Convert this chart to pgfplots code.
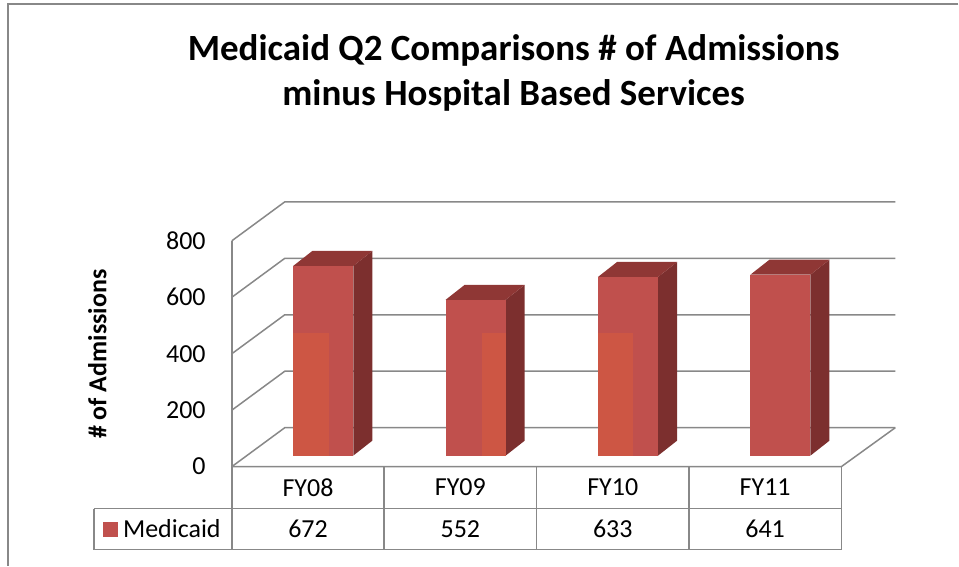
\documentclass[border=0pt]{standalone}
\usepackage{pgfplots}
\pgfplotsset{compat=1.18}
\usepackage{pgfplotstable}
\usepackage{fontspec}
\setmainfont{Carlito}
\definecolor{barfront}{RGB}{192,80,77}
\definecolor{barside}{RGB}{124,47,46}
\definecolor{bartop}{RGB}{143,55,53}
\definecolor{barlight}{RGB}{205,86,68}
\definecolor{gridgray}{RGB}{136,136,136}

% category centre, value, y of the table row
\pgfplotstableread{
x val ty
0.5 672 -221
1.5 552 -221
2.5 633 -221
3.5 641 -221
}\datatable

\begin{document}
\begin{tikzpicture}
\begin{axis}[
  width=664pt, height=265pt, scale only axis,
  xmin=0, xmax=4.354, ymin=0, ymax=938,
  clip=false,
  axis line style={draw=none},
  tick style={draw=none},
  major tick length=0pt,
  ytick={0,200,400,600,800},
  xtick={0.5,1.5,2.5,3.5},
  xticklabels={FY08,FY09,FY10,FY11},
  /pgf/number format/assume math mode=true,
  ticklabel style={font=\fontsize{26}{30}\selectfont},
  yticklabel style={anchor=east, xshift=-26pt, inner sep=0pt},
  xticklabel style={anchor=center, yshift=-21pt, inner sep=0pt},
  title={Medicaid Q2 Comparisons \# of Admissions\\minus Hospital Based Services},
  title style={at={(axis description cs:0.4247,1.611)}, anchor=north, inner sep=0pt,
               align=center, font=\bfseries\fontsize{37}{45}\selectfont},
  ylabel={\# of Admissions},
  ylabel style={at={(axis description cs:-0.2026,0.4245)}, anchor=center, inner sep=0pt,
                font=\bfseries\fontsize{26}{30}\selectfont},
]
% invisible frame fixing the picture size
\path (axis cs:-1.5213,1653.1) rectangle (axis cs:4.7672,-350.44);
% outer chart border (top and left)
\draw[gridgray, line width=1.5pt] (axis cs:4.7672,1639) -- (axis cs:-1.469,1639) -- (axis cs:-1.469,-350.44);

% side wall + back wall gridlines
\addplot[gridgray, line width=1.5pt, mark=none] coordinates {(0,0) (0.3475,138) (4.354,138)};
\addplot[gridgray, line width=1.5pt, mark=none] coordinates {(0,200) (0.3475,338) (4.354,338)};
\addplot[gridgray, line width=1.5pt, mark=none] coordinates {(0,400) (0.3475,538) (4.354,538)};
\addplot[gridgray, line width=1.5pt, mark=none] coordinates {(0,600) (0.3475,738) (4.354,738)};
\addplot[gridgray, line width=1.5pt, mark=none] coordinates {(0,800) (0.3475,938) (4.354,938)};
% floor front and right edge
\addplot[gridgray, line width=1.5pt, mark=none] coordinates {(0,0) (4,0) (4.354,138)};
% front vertical axis line (continues through table)
\draw[gridgray, line width=1.5pt] (axis cs:0,800) -- (axis cs:0,-294);
% data table grid
\draw[gridgray, line width=1.5pt] (axis cs:-0.905,-149) -- (axis cs:4,-149);
\draw[gridgray, line width=1.5pt] (axis cs:-0.905,-294) -- (axis cs:4,-294);
\draw[gridgray, line width=1.5pt] (axis cs:-0.905,-149) -- (axis cs:-0.905,-294);
\draw[gridgray, line width=1.5pt] (axis cs:1,0) -- (axis cs:1,-294);
\draw[gridgray, line width=1.5pt] (axis cs:2,0) -- (axis cs:2,-294);
\draw[gridgray, line width=1.5pt] (axis cs:3,0) -- (axis cs:3,-294);
\draw[gridgray, line width=1.5pt] (axis cs:4,0) -- (axis cs:4,-294);

% ---- bars (front face, side face, top face) ----
% FY08 = 672
\addplot[fill=barside, draw=none, mark=none] coordinates {(0.797,39) (0.922,92) (0.922,764) (0.797,711)} -- cycle;
\addplot[fill=bartop, draw=none, mark=none] coordinates {(0.403,711) (0.797,711) (0.922,764) (0.528,764)} -- cycle;
\addplot[fill=barfront, draw=none, mark=none] coordinates {(0.403,39) (0.797,39) (0.797,711) (0.403,711)} -- cycle;
\addplot[fill=barlight, draw=none, mark=none] coordinates {(0.403,39) (0.636,39) (0.636,474) (0.403,474)} -- cycle;
% FY09 = 552
\addplot[fill=barside, draw=none, mark=none] coordinates {(1.797,39) (1.922,92) (1.922,644) (1.797,591)} -- cycle;
\addplot[fill=bartop, draw=none, mark=none] coordinates {(1.403,591) (1.797,591) (1.922,644) (1.528,644)} -- cycle;
\addplot[fill=barfront, draw=none, mark=none] coordinates {(1.403,39) (1.797,39) (1.797,591) (1.403,591)} -- cycle;
\addplot[fill=barlight, draw=none, mark=none] coordinates {(1.639,39) (1.797,39) (1.797,474) (1.639,474)} -- cycle;
% FY10 = 633
\addplot[fill=barside, draw=none, mark=none] coordinates {(2.797,39) (2.922,92) (2.922,725) (2.797,672)} -- cycle;
\addplot[fill=bartop, draw=none, mark=none] coordinates {(2.403,672) (2.797,672) (2.922,725) (2.528,725)} -- cycle;
\addplot[fill=barfront, draw=none, mark=none] coordinates {(2.403,39) (2.797,39) (2.797,672) (2.403,672)} -- cycle;
\addplot[fill=barlight, draw=none, mark=none] coordinates {(2.403,39) (2.636,39) (2.636,474) (2.403,474)} -- cycle;
% FY11 = 641
\addplot[fill=barside, draw=none, mark=none] coordinates {(3.797,39) (3.922,92) (3.922,733) (3.797,680)} -- cycle;
\addplot[fill=bartop, draw=none, mark=none] coordinates {(3.403,680) (3.797,680) (3.922,733) (3.528,733)} -- cycle;
\addplot[fill=barfront, draw=none, mark=none] coordinates {(3.403,39) (3.797,39) (3.797,680) (3.403,680)} -- cycle;

% values row of the data table
\addplot[draw=none, mark=none, point meta=explicit,
  nodes near coords={\pgfmathprintnumber{\pgfplotspointmeta}},
  nodes near coords style={anchor=center, inner sep=0pt, font=\fontsize{26}{30}\selectfont}]
  table[x=x, y=ty, meta=val] {\datatable};

% legend cell
\fill[barfront] (axis cs:-0.846,-195) rectangle (axis cs:-0.748,-248);
\node[anchor=west, inner sep=0pt, font=\fontsize{26}{30}\selectfont] at (axis cs:-0.715,-221) {Medicaid};
\end{axis}
\end{tikzpicture}
\end{document}
